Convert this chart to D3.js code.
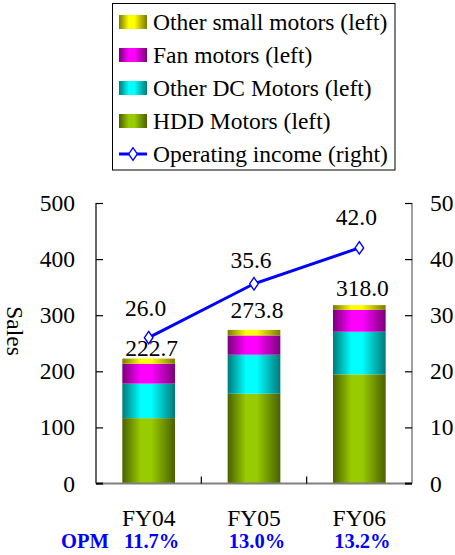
<!DOCTYPE html>
<html>
<head>
<meta charset="utf-8">
<script src="https://cdn.jsdelivr.net/npm/d3@7/dist/d3.min.js"></script>
<style>
  html, body { margin: 0; padding: 0; background: #fff; }
  svg { display: block; }
  svg text { font-family: "Liberation Serif", "DejaVu Serif", "Times New Roman", serif; }
</style>
</head>
<body>
<div id="chart"></div>
<script>
// Sales by motor type (left axis) and operating income (right axis)
const categories = ["FY04", "FY05", "FY06"];
const hddMotors = [116.5, 160.0, 194.5];
const otherDcMotors = [61.5, 69.5, 76.0];
const fanMotors = [35.5, 34.4, 39.0];
const otherSmallMotors = [9.2, 9.9, 8.5];
const salesTotals = [222.7, 273.8, 318.0];
const operatingIncome = [26.0, 35.6, 42.0];
const opmLabels = ["11.7%", "13.0%", "13.2%"];
const leftTicks = [0, 100, 200, 300, 400, 500];
const rightTicks = [0, 10, 20, 30, 40, 50];

const seriesDefs = [
  { key: "hdd", name: "HDD Motors (left)", values: hddMotors, bright: "#99cc00", dark: "#4a6000" },
  { key: "dc", name: "Other DC Motors (left)", values: otherDcMotors, bright: "#00ffff", dark: "#007a7a" },
  { key: "fan", name: "Fan motors (left)", values: fanMotors, bright: "#ff00ff", dark: "#7a007a" },
  { key: "small", name: "Other small motors (left)", values: otherSmallMotors, bright: "#ffff00", dark: "#7a7a00" }
];

const W = 455, H = 555;
const plot = { left: 96, right: 412, top: 203, bottom: 483.5 };
const serif = "'Liberation Serif', 'DejaVu Serif', 'Times New Roman', serif";
const fontSize = 23.5;

const svg = d3.select("#chart").append("svg")
  .attr("width", W).attr("height", H)
  .attr("font-family", serif);

const defs = svg.append("defs");
seriesDefs.forEach(s => {
  const g = defs.append("linearGradient")
    .attr("id", "grad-" + s.key)
    .attr("x1", "0%").attr("x2", "100%").attr("y1", "0%").attr("y2", "0%");
  g.append("stop").attr("offset", "0%").attr("stop-color", s.dark);
  g.append("stop").attr("offset", "35%").attr("stop-color", s.bright);
  g.append("stop").attr("offset", "55%").attr("stop-color", s.bright);
  g.append("stop").attr("offset", "100%").attr("stop-color", s.dark);
});

const x = d3.scaleBand()
  .domain(categories)
  .range([plot.left, plot.right])
  .paddingInner(0.5)
  .paddingOuter(0.25);

const yL = d3.scaleLinear().domain([0, 500]).range([plot.bottom, plot.top]);
const yR = d3.scaleLinear().domain([0, 50]).range([plot.bottom, plot.top]);

// stacked bars
const rows = categories.map((c, i) => {
  const r = { cat: c };
  seriesDefs.forEach(s => { r[s.key] = s.values[i]; });
  return r;
});
const stack = d3.stack().keys(seriesDefs.map(s => s.key));
const layers = stack(rows);

svg.append("g").selectAll("g")
  .data(layers)
  .join("g")
  .attr("fill", (d, i) => "url(#grad-" + seriesDefs[i].key + ")")
  .selectAll("rect")
  .data(d => d)
  .join("rect")
  .attr("x", d => x(d.data.cat))
  .attr("width", x.bandwidth())
  .attr("y", d => yL(d[1]))
  .attr("height", d => yL(d[0]) - yL(d[1]));

// axes
const axisL = d3.axisLeft(yL).tickValues(leftTicks).tickSize(-7).tickPadding(21).tickFormat(d3.format("d"));
const gL = svg.append("g").attr("transform", `translate(${plot.left},0)`).call(axisL)
  .attr("font-family", serif);
gL.select(".domain").attr("stroke", "#000").attr("stroke-width", 1.2).attr("d", `M0,${plot.top}V${plot.bottom}`);
gL.selectAll(".tick line").attr("stroke", "#000").attr("stroke-width", 1.2);
gL.selectAll(".tick text").attr("font-size", fontSize).attr("fill", "#000");

const axisR = d3.axisRight(yR).tickValues(rightTicks).tickSize(-7).tickPadding(18).tickFormat(d3.format("d"));
const gR = svg.append("g").attr("transform", `translate(${plot.right},0)`).call(axisR)
  .attr("font-family", serif);
gR.select(".domain").attr("stroke", "#808080").attr("stroke-width", 1.5).attr("d", `M0,${plot.top}V${plot.bottom}`);
gR.selectAll(".tick line").attr("stroke", "#000").attr("stroke-width", 1.2);
gR.selectAll(".tick text").attr("font-size", fontSize).attr("fill", "#000");

// category axis: gray baseline, tick marks between categories
const axisB = d3.axisBottom(x).tickSize(0).tickPadding(30);
const gB = svg.append("g").attr("transform", `translate(0,${plot.bottom})`).call(axisB)
  .attr("font-family", serif);
gB.select(".domain").attr("stroke", "#808080").attr("stroke-width", 1.8)
  .attr("d", `M${plot.left},0H${plot.right}`);
gB.selectAll(".tick text").attr("font-size", fontSize).attr("fill", "#000")
  .attr("dy", "0.55em");
// black 0-ticks of both value axes, drawn over the gray baseline
svg.append("line").attr("x1", plot.left).attr("x2", plot.left + 7)
  .attr("y1", plot.bottom).attr("y2", plot.bottom).attr("stroke", "#000").attr("stroke-width", 1.8);
svg.append("line").attr("x1", plot.right - 7).attr("x2", plot.right)
  .attr("y1", plot.bottom).attr("y2", plot.bottom).attr("stroke", "#000").attr("stroke-width", 1.8);
const step = x.step();
categories.slice(1).forEach(c => {
  const bx = x(c) - (step - x.bandwidth()) / 2;
  svg.append("line").attr("x1", bx).attr("x2", bx)
    .attr("y1", plot.bottom).attr("y2", plot.bottom - 7)
    .attr("stroke", "#000").attr("stroke-width", 1.2);
});

// y axis title
svg.append("text")
  .attr("transform", `translate(15,331) rotate(90)`)
  .attr("text-anchor", "middle").attr("dy", "0.33em")
  .attr("font-size", fontSize).text("Sales");

// total labels above bars
const totalNudge = [1, 10, 7];
svg.append("g").selectAll("text")
  .data(salesTotals)
  .join("text")
  .attr("x", (d, i) => x(categories[i]) + x.bandwidth() / 2 + 3)
  .attr("y", (d, i) => yL(d) - totalNudge[i] - 2)
  .attr("text-anchor", "middle")
  .attr("font-size", fontSize)
  .text(d => d.toFixed(1));

// operating income line
const cx = c => x(c) + x.bandwidth() / 2;
const line = d3.line()
  .x((d, i) => cx(categories[i]))
  .y(d => yR(d));
svg.append("path")
  .datum(operatingIncome)
  .attr("d", line)
  .attr("fill", "none")
  .attr("stroke", "#0000ff")
  .attr("stroke-width", 3);

const diamond = d3.symbol().type(d3.symbolDiamond).size(45);
svg.append("g").selectAll("path")
  .data(operatingIncome)
  .join("path")
  .attr("transform", (d, i) => `translate(${cx(categories[i])},${yR(d)}) scale(1.2,1)`)
  .attr("d", diamond)
  .attr("fill", "#fff")
  .attr("stroke", "#0000ff")
  .attr("stroke-width", 1.2);

const incomeNudge = [21, 15, 22];
svg.append("g").selectAll("text")
  .data(operatingIncome)
  .join("text")
  .attr("x", (d, i) => cx(categories[i]) - 3)
  .attr("y", (d, i) => yR(d) - incomeNudge[i] - 1)
  .attr("text-anchor", "middle")
  .attr("font-size", fontSize)
  .text(d => d.toFixed(1));

// OPM row
const opm = svg.append("g").attr("fill", "#0000ff").attr("font-weight", "bold").attr("font-size", 20.5);
opm.append("text").attr("x", 61).attr("y", 547.5).text("OPM");
opm.selectAll("text.v")
  .data(opmLabels)
  .join("text")
  .attr("class", "v")
  .attr("x", (d, i) => cx(categories[i]) + 3)
  .attr("y", 547.5)
  .attr("text-anchor", "middle")
  .text(d => d);

// legend
const legend = svg.append("g");
legend.append("rect")
  .attr("x", 112.5).attr("y", 3.5).attr("width", 282.5).attr("height", 166.5)
  .attr("fill", "#fff").attr("stroke", "#000").attr("stroke-width", 1);

const legendItems = seriesDefs.slice().reverse().map(s => ({ name: s.name, key: s.key, type: "bar" }))
  .concat([{ name: "Operating income (right)", type: "line" }]);
const rowY = i => 22 + i * 33;
const li = legend.selectAll("g.item")
  .data(legendItems)
  .join("g")
  .attr("class", "item")
  .attr("transform", (d, i) => `translate(0,${rowY(i)})`);

li.filter(d => d.type === "bar").append("rect")
  .attr("x", 119).attr("y", -7).attr("width", 28).attr("height", 14)
  .attr("fill", d => "url(#grad-" + d.key + ")");

const lineItem = li.filter(d => d.type === "line");
lineItem.append("line")
  .attr("x1", 119).attr("x2", 147).attr("y1", 0).attr("y2", 0)
  .attr("stroke", "#0000ff").attr("stroke-width", 3);
lineItem.append("path")
  .attr("d", diamond)
  .attr("transform", "translate(133,0) scale(1.2,1)")
  .attr("fill", "#fff").attr("stroke", "#0000ff").attr("stroke-width", 1.2);

li.append("text")
  .attr("x", 153).attr("y", 0).attr("dy", "0.35em")
  .attr("font-size", fontSize)
  .text(d => d.name);
</script>
</body>
</html>
